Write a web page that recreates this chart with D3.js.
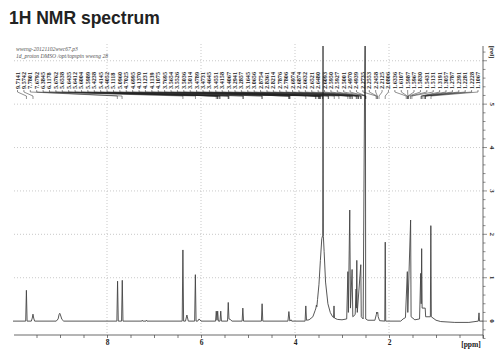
<!DOCTYPE html>
<html>
<head>
<meta charset="utf-8">
<script src="https://cdn.jsdelivr.net/npm/d3@7"></script>
<style>
  body { margin: 0; background: #fff; }
  svg { display: block; }
</style>
</head>
<body>
<svg id="chart" width="495" height="349"></svg>
<script>
// spectrum trace: [ppm, relative intensity]
const spectrum = [
  [10.0, 0], [9.73, 0], [9.715, 0.71], [9.70, 0],
  [9.61, 0], [9.59, 0.07], [9.575, 0.16], [9.56, 0.07], [9.54, 0],
  [9.08, 0], [9.04, 0.05], [9.02, 0.15], [9.005, 0.18], [8.99, 0.14], [8.96, 0.04], [8.92, 0],
  [7.79, 0], [7.775, 0.92], [7.76, 0], [7.69, 0], [7.675, 0.94], [7.66, 0],
  [7.26, 0], [7.25, 0.02], [7.24, 0], [7.17, 0], [7.16, 0.02], [7.15, 0],
  [6.40, 0], [6.385, 1.64], [6.37, 0],
  [6.33, 0], [6.30, 0.14], [6.27, 0],
  [6.135, 0], [6.12, 1.07], [6.105, 0],
  [6.07, 0], [6.04, 0.05], [6.00, 0],
  [5.69, 0], [5.675, 0.23], [5.66, 0.02], [5.645, 0.23], [5.63, 0],
  [5.595, 0], [5.58, 0.23], [5.565, 0],
  [5.435, 0], [5.42, 0.43], [5.405, 0.05], [5.38, 0.04], [5.34, 0],
  [5.125, 0], [5.11, 0.30], [5.095, 0],
  [4.715, 0], [4.70, 0.40], [4.685, 0],
  [4.15, 0], [4.13, 0.22], [4.11, 0], [4.085, 0.03], [4.07, 0],
  [3.785, 0], [3.77, 0.35], [3.755, 0.02],
  [3.70, 0.03], [3.62, 0.10], [3.57, 0.25], [3.555, 0.30], [3.545, 0.37], [3.535, 0.33],
  [3.52, 0.5], [3.49, 0.85], [3.46, 1.4], [3.43, 1.9], [3.41, 1.98],
  [3.404, 8], [3.396, 1.95], [3.38, 1.6], [3.35, 0.9], [3.30, 0.4], [3.25, 0.2],
  [3.20, 0.1], [3.18, 0.08], [3.17, 0.35], [3.16, 0.07], [3.10, 0.04], [3.00, 0.03],
  [2.90, 0.05], [2.875, 1.14], [2.865, 0.2], [2.835, 2.56], [2.82, 0.3], [2.785, 1.19],
  [2.77, 0.1], [2.72, 0.15], [2.70, 0.74], [2.695, 0.3], [2.685, 1.40], [2.675, 0.2],
  [2.60, 1.30], [2.59, 0.1], [2.55, 0.05], [2.504, 8], [2.496, 0.05], [2.45, 0.02],
  [2.30, 0.02], [2.27, 0.15], [2.26, 0.21], [2.25, 0.18], [2.24, 0.2], [2.23, 0.1], [2.20, 0.01],
  [2.09, 0], [2.08, 1.82], [2.07, 0],
  [1.75, 0], [1.70, 0.05], [1.65, 0.08], [1.61, 1.14], [1.60, 0.2], [1.54, 2.33], [1.53, 0.1], [1.45, 0.03],
  [1.35, 0.05], [1.325, 1.1], [1.315, 0.4], [1.305, 1.67], [1.295, 0.3], [1.23, 0.3], [1.22, 0.1],
  [1.12, 0.1], [1.11, 2.20], [1.10, 0.1], [1.00, 0.02],
  [0.90, -0.01], [0.6, -0.03], [0.3, -0.03], [0.10, 0], [0.085, 0.19], [0.075, 0], [0, 0]
];

// peak picking labels (ppm)
const peakLabels = [
  9.7141, 9.5742, 7.7801, 7.6792, 6.3845, 6.1178, 5.6762, 5.6538, 5.6435, 5.6412,
  5.6004, 5.5989, 5.4238, 5.4145, 5.4052, 5.1118, 5.0960, 4.7025, 4.6995, 4.1370,
  4.1231, 4.1139, 4.1075, 3.7695, 3.5654, 3.5526, 3.5036, 3.5014, 3.4789, 3.4731,
  3.4645, 3.4551, 3.4158, 3.4067, 3.2941, 3.2857, 3.1645, 3.0656, 2.8754, 2.8361,
  2.8214, 2.7876, 2.7806, 2.6974, 2.6874, 2.6632, 2.6521, 2.6480, 2.6093, 2.5950,
  2.5927, 2.5001, 2.4970, 2.4939, 2.2735, 2.2553, 2.2458, 2.2125, 2.0806, 1.6336,
  1.6107, 1.5987, 1.5967, 1.5830, 1.5431, 1.5131, 1.3191, 1.3057, 1.2787, 1.2391,
  1.2281, 1.2228, 1.1067
];

const xTicks = d3.range(9.5, -0.01, -0.5);
const xLabels = [8, 6, 4, 2];
const yTicks = d3.range(-0.4, 6.3, 0.2);
const yLabels = [0, 1, 2, 3, 4, 5];
const yGrid = [1, 2, 3, 4, 5, 6];

const svg = d3.select('#chart');
const serif = '"Liberation Serif", "DejaVu Serif", serif';

const x = d3.scaleLinear().domain([10, 0]).range([13, 483]);
const y = d3.scaleLinear().domain([-0.32, 6.34]).range([335, 46]);

// title
svg.append('text')
  .attr('x', 9).attr('y', 24)
  .attr('font-family', 'Liberation Sans, Arial, sans-serif')
  .attr('font-weight', 'bold')
  .attr('font-size', 17.5)
  .attr('fill', '#222')
  .text('1H NMR spectrum');

// header lines
svg.append('text')
  .attr('x', 16).attr('y', 50.5)
  .attr('font-family', serif).attr('font-style', 'italic')
  .attr('font-size', 5.6).attr('fill', '#555')
  .text('wweng-20121102wwc67.p3');
svg.append('text')
  .attr('x', 16).attr('y', 57.5)
  .attr('font-family', serif).attr('font-style', 'italic')
  .attr('font-size', 5.6).attr('fill', '#555')
  .text('1d_proton DMSO /opt/topspin wweng 28');

// dotted grid
svg.append('g')
  .selectAll('line')
  .data(xLabels)
  .join('line')
  .attr('x1', d => x(d)).attr('x2', d => x(d))
  .attr('y1', 44).attr('y2', 335)
  .attr('stroke', '#bbb').attr('stroke-width', 0.8)
  .attr('stroke-dasharray', '1,2');

svg.append('g')
  .selectAll('line')
  .data(yGrid)
  .join('line')
  .attr('x1', 14).attr('x2', 483)
  .attr('y1', d => y(d)).attr('y2', d => y(d))
  .attr('stroke', '#bbb').attr('stroke-width', 0.8)
  .attr('stroke-dasharray', '1,2');

// spectrum
svg.append('defs').append('clipPath').attr('id', 'clip-spec')
  .append('rect').attr('x', 13).attr('y', 46).attr('width', 470).attr('height', 289);

const line = d3.line()
  .x(d => x(d[0]))
  .y(d => y(d[1]));

svg.append('path')
  .datum(spectrum)
  .attr('fill', 'none')
  .attr('stroke', '#444')
  .attr('stroke-width', 0.9)
  .attr('stroke-linejoin', 'round')
  .attr('clip-path', 'url(#clip-spec)')
  .attr('d', line);

// peak labels
const labelX = d3.scalePoint().domain(d3.range(peakLabels.length)).range([17.5, 478]);

const lg = svg.append('g');
lg.selectAll('text')
  .data(peakLabels)
  .join('text')
  .attr('transform', (d, i) => `translate(${labelX(i) + 2},89) rotate(-90)`)
  .attr('font-family', serif)
  .attr('font-weight', 'bold')
  .attr('font-size', 6.2)
  .attr('fill', '#222')
  .text(d => d.toFixed(4));

lg.selectAll('path')
  .data(peakLabels)
  .join('path')
  .attr('fill', 'none')
  .attr('stroke', '#222')
  .attr('stroke-width', 0.5)
  .attr('d', (d, i) => `M${labelX(i)},90 L${labelX(i)},92 L${x(d)},96 L${x(d)},99`);

// bottom axis
const xAxis = d3.axisBottom(x)
  .tickValues(xTicks)
  .tickSize(3)
  .tickFormat(d => xLabels.includes(d) ? d : '');

const gx = svg.append('g')
  .attr('transform', 'translate(0,335)')
  .call(xAxis);
gx.select('.domain').attr('d', 'M14,0H483').attr('stroke', '#444').attr('stroke-width', 0.8);
gx.selectAll('.tick line').attr('stroke', '#444').attr('stroke-width', 0.7);
gx.selectAll('.tick text')
  .attr('font-family', serif).attr('font-weight', 'bold')
  .attr('font-size', 7.5).attr('fill', '#222').attr('dy', '0.55em');

svg.append('text')
  .attr('x', 471).attr('y', 347)
  .attr('text-anchor', 'middle')
  .attr('font-family', serif).attr('font-weight', 'bold')
  .attr('font-size', 7.5).attr('fill', '#222')
  .text('[ppm]');

// right axis
const gy = svg.append('g').attr('transform', 'translate(483,0)');
gy.append('line')
  .attr('x1', 0).attr('x2', 0).attr('y1', 46).attr('y2', y(-0.4))
  .attr('stroke', '#444').attr('stroke-width', 0.8);
gy.selectAll('line.tk')
  .data(yTicks)
  .join('line')
  .attr('class', 'tk')
  .attr('x1', 0)
  .attr('x2', d => Math.abs(d - Math.round(d)) < 0.01 ? 4 : 2.5)
  .attr('y1', d => y(d)).attr('y2', d => y(d))
  .attr('stroke', '#444').attr('stroke-width', 0.6);
gy.selectAll('text.lb')
  .data(yLabels)
  .join('text')
  .attr('class', 'lb')
  .attr('transform', d => `translate(7,${y(d)}) rotate(90)`)
  .attr('text-anchor', 'middle')
  .attr('font-family', serif).attr('font-weight', 'bold')
  .attr('font-size', 7).attr('fill', '#222')
  .text(d => d);
gy.append('text')
  .attr('transform', `translate(7,${y(6.2)}) rotate(90)`)
  .attr('text-anchor', 'middle')
  .attr('font-family', serif).attr('font-weight', 'bold')
  .attr('font-size', 7).attr('fill', '#222')
  .text('[rel]');
</script>
</body>
</html>
